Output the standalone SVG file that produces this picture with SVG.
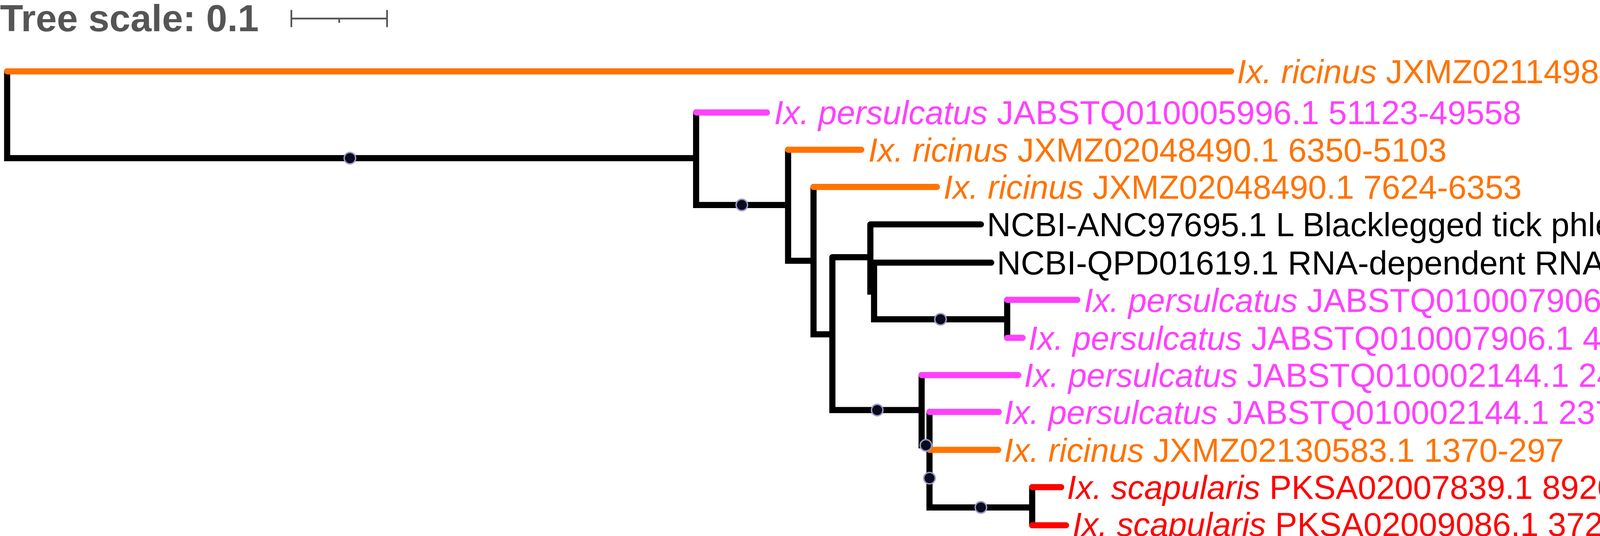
<svg xmlns="http://www.w3.org/2000/svg" width="5733" height="1373" viewBox="0 0 5733 1373">
<style>
.b{fill:none;stroke:#000;stroke-width:4.3;stroke-linecap:round}
.o{stroke:#ff7300}.p{stroke:#ff40ff}.r{stroke:#ff0000}
.t{font-family:"Liberation Sans",Arial,sans-serif;font-size:23.2px}
.dot{fill:#0a0a1e;stroke:#9a9ac8;stroke-width:1}
</style>
<rect width="5733" height="1373" fill="#fff"/>
<g transform="scale(3.65625)">
<g id="scale">
<text x="0" y="22" font-family="Liberation Sans,Arial,sans-serif" font-weight="bold" font-size="26.5" fill="#555">Tree scale: 0.1</text>
<path d="M204 13H271M204 7V19M271 7V19M237.5 13V16" stroke="#555" stroke-width="1.2" fill="none"/>
</g>
<g id="connectors">
<path class="b" d="M5 50V110.8H487.4M487.4 78.8V143.6H551.8M551.8 104.9V182.7H569.6M569.6 131V234.2H582.8M582.8 180.2V287.3H645.3M582.8 180.2H609.4M609.4 157.2V204.3H612M612 184V223.7H705.2M705.2 210.1V236.7M609.4 157.2H686.8M612 184H694M645.3 262.8V312H650.8M650.8 288.6V355.5H722.7M722.7 341.3V368"/>
<path class="b o" d="M5 50H862M551.8 104.9H603M569.6 131H656M650.8 315.2H698.9"/>
<path class="b p" d="M487.4 78.8H537M705.2 210.1H754.3M705.2 236.7H716M645.3 262.8H713M650.8 288.6H699.3"/>
<path class="b r" d="M722.7 341.3H743M722.7 368H746.4"/>
<circle class="dot" cx="245" cy="110.8" r="4"/>
<circle class="dot" cx="519.4" cy="143.6" r="4"/>
<circle class="dot" cx="658.5" cy="223.7" r="4"/>
<circle class="dot" cx="614.2" cy="287.3" r="4"/>
<circle class="dot" cx="648.3" cy="312" r="4"/>
<circle class="dot" cx="650.8" cy="335" r="4"/>
<circle class="dot" cx="686.8" cy="355.5" r="4"/>
</g>
<g id="n1" class="t" fill="#ff7300"><text x="866" y="58.3"><tspan font-style="italic">Ix. ricinus</tspan> JXMZ02114984.1 26-1501</text></g>
<g id="n2" class="t" fill="#ff40ff"><text x="542" y="87.1"><tspan font-style="italic">Ix. persulcatus</tspan> JABSTQ010005996.1 51123-49558</text></g>
<g id="n3" class="t" fill="#ff7300"><text x="608" y="113.2"><tspan font-style="italic">Ix. ricinus</tspan> JXMZ02048490.1 6350-5103</text></g>
<g id="n4" class="t" fill="#ff7300"><text x="660.6" y="139.3"><tspan font-style="italic">Ix. ricinus</tspan> JXMZ02048490.1 7624-6353</text></g>
<g id="n5" class="t" fill="#000"><text x="691" y="165.5">NCBI-ANC97695.1 L Blacklegged tick phlebovirus 3</text></g>
<g id="n6" class="t" fill="#000"><text x="698" y="192.3">NCBI-QPD01619.1 RNA-dependent RNA-polymerase partial Onega tick phlebovirus</text></g>
<g id="n7" class="t" fill="#ff40ff"><text x="759" y="218.4"><tspan font-style="italic">Ix. persulcatus</tspan> JABSTQ010007906.1 4028-3579</text></g>
<g id="n8" class="t" fill="#ff40ff"><text x="720" y="245"><tspan font-style="italic">Ix. persulcatus</tspan> JABSTQ010007906.1 4922-4572</text></g>
<g id="n9" class="t" fill="#ff40ff"><text x="717" y="271.1"><tspan font-style="italic">Ix. persulcatus</tspan> JABSTQ010002144.1 24554-25384</text></g>
<g id="n10" class="t" fill="#ff40ff"><text x="703" y="296.9"><tspan font-style="italic">Ix. persulcatus</tspan> JABSTQ010002144.1 23776-24561</text></g>
<g id="n11" class="t" fill="#ff7300"><text x="703" y="323.5"><tspan font-style="italic">Ix. ricinus</tspan> JXMZ02130583.1 1370-297</text></g>
<g id="n12" class="t" fill="#ff0000"><text x="747" y="349.6"><tspan font-style="italic">Ix. scapularis</tspan> PKSA02007839.1 89207-88386</text></g>
<g id="n13" class="t" fill="#ff0000"><text x="751" y="375.5"><tspan font-style="italic">Ix. scapularis</tspan> PKSA02009086.1 372880-373179</text></g>
</g>
</svg>
